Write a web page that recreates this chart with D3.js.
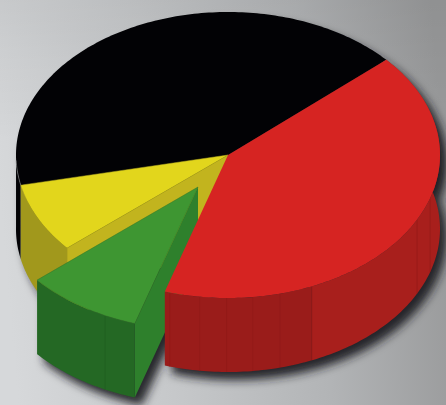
<!DOCTYPE html>
<html>
<head>
<meta charset="utf-8">
<script src="https://cdnjs.cloudflare.com/ajax/libs/d3/7.8.5/d3.min.js"></script>
<style>html,body{margin:0;padding:0;overflow:hidden;background:#c4c6c8}svg{display:block}</style>
</head>
<body>
<svg id="chart" width="446" height="405"></svg>
<script>
// Share of each slice, clockwise from the black/red boundary
const sliceNames = ["red", "green", "yellow", "black"];
const sliceValues = [41.4, 8.9, 7.9, 41.8];
const topColors = ["#d62422", "#3e9632", "#e2d61c", "#020205"];
const rimColors = ["#a81f1c", "#266b25", "#a1981c", "#020205"];
const rimDarkColors = ["#9a1c1a", "#246824", "#a1981c", "#020205"];
const cutColors = [null, "#2e802c", "#c2b41e", null];
const explodeX = [0, -30, 0, 0];
const explodeY = [0, 32, 0, 0];
const rimFacets = [[106, 97.7, 90.4, 83.3, 75.8, 66.7, 26.9, 17.6], [116], [], []];
const rimDarkFrom = [66.7, 107, 139, 168];

const width = 446, height = 405, depth = 74;
const svg = d3.select("#chart");
const defs = svg.append("defs");

const bg = defs.append("linearGradient").attr("id", "bg")
  .attr("x1", 0).attr("y1", 0.5).attr("x2", 1).attr("y2", 0.42);
[[0, "#d6d8da"], [0.35, "#c6c8ca"], [0.7, "#b2b4b6"], [1, "#999a9b"]].forEach(([o, c]) =>
  bg.append("stop").attr("offset", o).attr("stop-color", c));

const veil = defs.append("linearGradient").attr("id", "veil")
  .attr("x1", 0).attr("y1", 0).attr("x2", 0).attr("y2", 1);
[[0, 0.06], [0.35, 0]].forEach(([o, a]) =>
  veil.append("stop").attr("offset", o).attr("stop-color", "#000").attr("stop-opacity", a));

const blur = defs.append("filter").attr("id", "soft")
  .attr("x", "-20%").attr("y", "-20%").attr("width", "140%").attr("height", "140%");
blur.append("feGaussianBlur").attr("stdDeviation", 5);

svg.append("rect").attr("width", width).attr("height", height).attr("fill", "url(#bg)");
svg.append("rect").attr("width", width).attr("height", height).attr("fill", "url(#veil)");

// Unit circle coordinates are flattened onto the tilted disc by these scales
const sx = d3.scaleLinear().domain([-1, 1]).range([16, 440]);
const sy = d3.scaleLinear().domain([-1, 1]).range([12, 298]);
const toRad = Math.PI / 180;

const pie = d3.pie().sort(null)
  .startAngle((90 - 41.7) * toRad)
  .endAngle((90 - 41.7 + 360) * toRad);
const slices = pie(sliceValues).map((d, i) => ({
  i,
  t0: d.startAngle / toRad - 90,
  t1: d.endAngle / toRad - 90
}));

const line = d3.line();
const px = (t, i) => sx(Math.cos(t * toRad)) + explodeX[i];
const py = (t, i, down = 0) => sy(Math.sin(t * toRad)) + explodeY[i] + down;
const sweep = (a, b) => d3.range(a, b, 1).concat([b]);
const centre = (i, down = 0) => [sx(0) + explodeX[i], sy(0) + explodeY[i] + down];

const topPath = s => line([centre(s.i), ...sweep(s.t0, s.t1).map(t => [px(t, s.i), py(t, s.i)])]) + "Z";
const rimPath = (s, a, b) => {
  const from = Math.max(a, s.t0), to = Math.min(b, s.t1);
  const ts = sweep(from, to);
  return line([
    ...ts.map(t => [px(t, s.i), py(t, s.i)]),
    ...ts.slice().reverse().map(t => [px(t, s.i), py(t, s.i, depth)])
  ]) + "Z";
};
const cutPath = s => line([
  centre(s.i), [px(s.t0, s.i), py(s.t0, s.i)],
  [px(s.t0, s.i), py(s.t0, s.i, depth)], centre(s.i, depth)
]) + "Z";

// Only the part of the black wall left of the yellow slice can be seen
const rimEnd = k => (k === 3 ? 181 : slices[k].t1);

// Painter's order: back slice first, the red slice last
const paintOrder = [3, 2, 1, 0];

const shadow = svg.append("g").attr("filter", "url(#soft)")
  .attr("transform", "translate(7,8)").attr("fill", "#1e2021").attr("fill-opacity", 0.95);
paintOrder.forEach(k => {
  const s = slices[k];
  shadow.append("path").attr("d", topPath(s));
  shadow.append("path").attr("d", rimPath(s, s.t0, rimEnd(k)));
  if (cutColors[k]) shadow.append("path").attr("d", cutPath(s));
});

const pieG = svg.append("g");
paintOrder.forEach(k => {
  const s = slices[k];
  const g = pieG.append("g").attr("class", sliceNames[k]);
  if (cutColors[k]) g.append("path").attr("d", cutPath(s)).attr("fill", cutColors[k]);
  const end = rimEnd(k);
  const split = Math.max(s.t0, Math.min(end, rimDarkFrom[k]));
  if (split > s.t0) g.append("path").attr("d", rimPath(s, s.t0, split)).attr("fill", rimColors[k]);
  if (split < end) g.append("path").attr("d", rimPath(s, split, end)).attr("fill", rimDarkColors[k]);
  rimFacets[k].forEach(t => {
    g.append("line")
      .attr("x1", px(t, k)).attr("x2", px(t, k))
      .attr("y1", py(t, k)).attr("y2", py(t, k, depth))
      .attr("stroke", d3.color(rimColors[k]).darker(0.45)).attr("stroke-width", 0.6);
  });
  g.append("path").attr("d", topPath(s)).attr("fill", topColors[k]);
  if (k === 2 || k === 1) {
    g.append("path").attr("d", topPath(s)).attr("fill", "none")
      .attr("stroke", d3.color(topColors[k]).darker(0.7)).attr("stroke-width", 0.5);
  }
  if (k === 3) {
    // Faint highlight where the black top meets its wall
    g.append("path")
      .attr("d", line(sweep(s.t0, s.t0 + 10).map(t => [px(t, k), py(t, k)])))
      .attr("fill", "none").attr("stroke", "#8d8f91").attr("stroke-width", 0.6);
  }
});
</script>
</body>
</html>
